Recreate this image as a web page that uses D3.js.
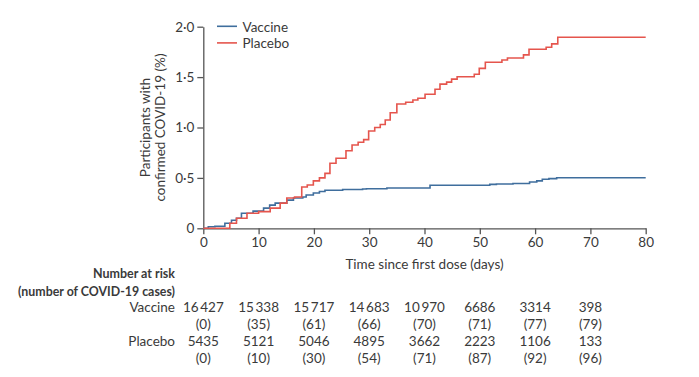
<!DOCTYPE html>
<html>
<head>
<meta charset="utf-8">
<script src="https://cdn.jsdelivr.net/npm/d3@7"></script>
<style>
  html, body { margin: 0; padding: 0; background: #fff; }
  svg text { font-family: 'Liberation Sans Narrow', 'Arial Narrow', Lato, sans-serif; fill: #3a3a3a; }
</style>
</head>
<body>
<svg id="chart" width="699" height="377"></svg>
<script>
// ---- Data ----
const vaccineDays   = [0, 0.9, 2.1, 3.9, 5.1, 6.0, 6.9, 9.0, 10.9, 12.0, 13.0, 15.1, 16.3, 18.0, 18.6, 19.9, 21.0, 22.0, 25.2, 28.8, 29.5, 33.2, 41.0, 51.8, 53.0, 56.0, 59.0, 60.3, 61.3, 62.5, 63.9, 80];
const vaccineValues = [0, 0.016, 0.02, 0.05, 0.08, 0.10, 0.15, 0.17, 0.20, 0.23, 0.25, 0.28, 0.30, 0.31, 0.33, 0.35, 0.365, 0.377, 0.385, 0.39, 0.393, 0.40, 0.427, 0.436, 0.44, 0.444, 0.46, 0.47, 0.486, 0.493, 0.502, 0.502];

const placeboDays   = [0, 4.8, 6.0, 7.9, 10.0, 12.1, 13.9, 15.1, 16.5, 17.8, 18.8, 19.9, 21.0, 22.0, 22.9, 24.0, 25.8, 26.9, 28.0, 29.0, 29.9, 31.0, 32.0, 32.9, 33.8, 35.0, 36.6, 37.9, 38.8, 40.1, 41.9, 42.8, 44.0, 44.9, 45.9, 49.0, 49.9, 51.0, 54.0, 55.0, 57.9, 58.9, 62.0, 63.0, 64.1, 80];
const placeboValues = [0, 0.05, 0.10, 0.15, 0.165, 0.20, 0.25, 0.30, 0.31, 0.41, 0.43, 0.47, 0.50, 0.545, 0.645, 0.695, 0.77, 0.826, 0.853, 0.88, 0.965, 1.0, 1.03, 1.074, 1.147, 1.233, 1.25, 1.273, 1.29, 1.33, 1.38, 1.43, 1.45, 1.48, 1.504, 1.528, 1.587, 1.647, 1.67, 1.69, 1.72, 1.776, 1.796, 1.83, 1.895, 1.895];

const xTicks = [0, 10, 20, 30, 40, 50, 60, 70, 80];
const yTicks = [0, 0.5, 1.0, 1.5, 2.0];

const riskDays = [0, 10, 20, 30, 40, 50, 60, 70];
const vaccineAtRisk = [16427, 15338, 15717, 14683, 10970, 6686, 3314, 398];
const vaccineCases  = [0, 35, 61, 66, 70, 71, 77, 79];
const placeboAtRisk = [5435, 5121, 5046, 4895, 3662, 2223, 1106, 133];
const placeboCases  = [0, 10, 30, 54, 71, 87, 92, 96];

const seriesNames = ["Vaccine", "Placebo"];
const colors = { Vaccine: "#3f6e9d", Placebo: "#e5554d" };

// ---- Layout ----
const svg = d3.select("#chart");
const x = d3.scaleLinear().domain([0, 80]).range([203.3, 645.7]);
const y = d3.scaleLinear().domain([0, 2]).range([228.3, 26.7]);
const axisColor = "#555";
const fs = 13.5;

// squeeze a text to a target width if it is wider (font stand-in for a condensed face)
function fit(sel, maxW) {
  sel.each(function () {
    const w = this.getComputedTextLength();
    if (w > maxW) { d3.select(this).attr("textLength", maxW).attr("lengthAdjust", "spacingAndGlyphs"); }
  });
}

// Axes
const xAxis = svg.append("g").attr("transform", `translate(0,${y(0)})`)
  .call(d3.axisBottom(x).tickValues(xTicks).tickSize(6).tickSizeOuter(0).tickPadding(3).tickFormat(d3.format("d")));
const yAxis = svg.append("g").attr("transform", `translate(${x(0)},0)`)
  .call(d3.axisLeft(y).tickValues(yTicks).tickSize(6).tickSizeOuter(0).tickPadding(3)
    .tickFormat(d => d === 0 ? "0" : d3.format(".1f")(d).replace(".", "\u00B7")));
[xAxis, yAxis].forEach(g => {
  g.selectAll("path, line").attr("stroke", axisColor).attr("stroke-width", 1.3);
  g.selectAll("text").style("font-size", fs + "px").style("font-family", null).attr("fill", "#3a3a3a");
});

// Lines
const line = d3.line().x(d => x(d[0])).y(d => y(d[1])).curve(d3.curveStepAfter);
const vData = vaccineDays.map((d, i) => [d, vaccineValues[i]]);
const pData = placeboDays.map((d, i) => [d, placeboValues[i]]);
svg.append("path").datum(vData).attr("d", line).attr("fill", "none")
  .attr("stroke", colors.Vaccine).attr("stroke-width", 1.6);
svg.append("path").datum(pData).attr("d", line).attr("fill", "none")
  .attr("stroke", colors.Placebo).attr("stroke-width", 1.6);

// Legend
seriesNames.forEach((name, i) => {
  const ly = 26.3 + i * 16.6;
  svg.append("line").attr("x1", 217).attr("x2", 237).attr("y1", ly).attr("y2", ly)
    .attr("stroke", colors[name]).attr("stroke-width", 1.6);
  svg.append("text").attr("x", 242.5).attr("y", ly + 0.5).attr("dominant-baseline", "central")
    .style("font-size", fs + "px").text(name);
});

// Axis titles
const yt = svg.append("text").attr("transform", `translate(152.5,127.5) rotate(-90)`)
  .attr("text-anchor", "middle").style("font-size", fs + "px");
yt.append("tspan").attr("x", 0).attr("y", -7.5).attr("dominant-baseline", "central").text("Participants with");
yt.append("tspan").attr("x", 0).attr("y", 7.5).attr("dominant-baseline", "central").text("confirmed COVID-19 (%)");

svg.append("text").attr("x", (x(0) + x(80)) / 2).attr("y", 263.5).attr("text-anchor", "middle")
  .attr("dominant-baseline", "central").style("font-size", fs + "px").text("Time since first dose (days)");

// Risk table
svg.append("text").attr("x", 175).attr("y", 272.7).attr("text-anchor", "end").attr("dominant-baseline", "central")
  .style("font-size", fs + "px").style("font-weight", "bold").text("Number at risk").call(fit, 82);
svg.append("text").attr("x", 175).attr("y", 290.7).attr("text-anchor", "end").attr("dominant-baseline", "central")
  .style("font-size", fs + "px").style("font-weight", "bold").text("(number of COVID-19 cases)").call(fit, 157);

const fmt = n => n >= 10000 ? d3.format(",")(n).replace(",", "\u2009") : String(n);
const rows = [
  { name: "Vaccine", risk: vaccineAtRisk, cases: vaccineCases, y: 307.3 },
  { name: "Placebo", risk: placeboAtRisk, cases: placeboCases, y: 340.7 }
];
rows.forEach(r => {
  svg.append("text").attr("x", 175).attr("y", r.y).attr("text-anchor", "end").attr("dominant-baseline", "central")
    .style("font-size", fs + "px").text(r.name);
  svg.append("g").selectAll("text").data(riskDays).join("text")
    .attr("x", d => x(d)).attr("y", r.y).attr("text-anchor", "middle").attr("dominant-baseline", "central")
    .style("font-size", fs + "px").text((d, i) => fmt(r.risk[i]));
  svg.append("g").selectAll("text").data(riskDays).join("text")
    .attr("x", d => x(d)).attr("y", r.y + 16.8).attr("text-anchor", "middle").attr("dominant-baseline", "central")
    .style("font-size", fs + "px").text((d, i) => "(" + r.cases[i] + ")");
});
</script>
</body>
</html>
